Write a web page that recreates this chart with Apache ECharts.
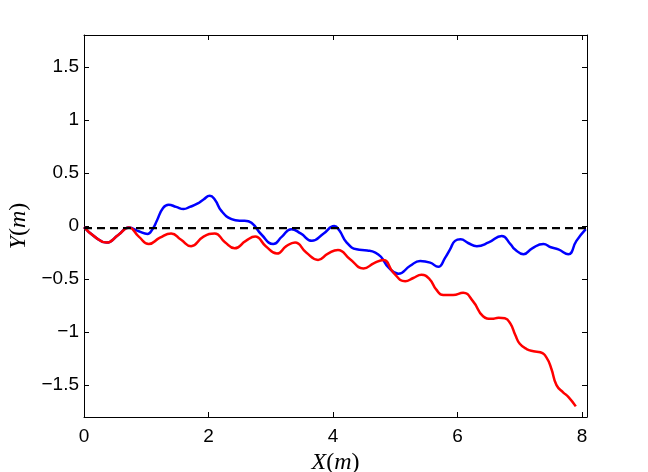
<!DOCTYPE html>
<html>
<head>
<meta charset="utf-8">
<script src="https://cdn.jsdelivr.net/npm/echarts@6/dist/echarts.min.js"></script>
<style>
  html, body { margin: 0; padding: 0; background: #fff; }
  #chart { width: 648px; height: 472px; }
</style>
</head>
<body>
<div id="chart"></div>
<script>
// tick labels
var xTicks = [0, 2, 4, 6, 8];
var yTicks = [-1.5, -1, -0.5, 0, 0.5, 1, 1.5];

// red path [x, y]
var redPath = [
  [0, -0.01], [0.17, -0.1], [0.36, -0.156], [0.55, -0.085], [0.72, -0.015],
  [0.88, -0.1], [1.04, -0.17], [1.22, -0.11], [1.40, -0.07], [1.56, -0.13],
  [1.72, -0.19], [1.92, -0.1], [2.1, -0.07], [2.26, -0.15], [2.42, -0.21],
  [2.6, -0.14], [2.75, -0.10], [2.92, -0.19], [3.10, -0.26], [3.25, -0.19],
  [3.39, -0.155], [3.57, -0.25], [3.76, -0.32], [3.92, -0.26], [4.08, -0.225],
  [4.27, -0.31], [4.49, -0.40], [4.66, -0.35], [4.81, -0.32], [4.97, -0.44],
  [5.16, -0.52], [5.29, -0.49], [5.42, -0.46], [5.55, -0.50], [5.66, -0.60],
  [5.77, -0.65], [5.93, -0.65], [6.09, -0.63], [6.25, -0.71], [6.41, -0.85],
  [6.55, -0.875], [6.66, -0.865], [6.76, -0.87], [6.85, -0.92], [6.93, -1.03],
  [7.0, -1.11], [7.11, -1.16], [7.22, -1.18], [7.33, -1.19], [7.43, -1.24],
  [7.51, -1.35], [7.59, -1.50], [7.70, -1.57], [7.78, -1.61], [7.90, -1.70]
];

// blue path [x, y]
var bluePath = [
  [0, -0.01], [0.17, -0.1], [0.36, -0.156], [0.55, -0.085], [0.72, -0.015],
  [0.88, -0.05], [1.02, -0.075], [1.1, -0.03], [1.17, 0.05], [1.27, 0.17],
  [1.36, 0.2], [1.48, 0.18], [1.6, 0.16], [1.7, 0.18], [1.82, 0.21],
  [1.92, 0.25], [2.02, 0.285], [2.1, 0.25], [2.21, 0.14], [2.37, 0.065],
  [2.5, 0.05], [2.58, 0.05], [2.69, 0.03], [2.85, -0.08], [3.04, -0.17],
  [3.18, -0.1], [3.33, -0.03], [3.48, -0.07], [3.66, -0.14], [3.85, -0.07],
  [4.02, 0.0], [4.1, -0.04], [4.22, -0.156], [4.38, -0.22], [4.55, -0.23],
  [4.68, -0.25], [4.77, -0.29], [4.89, -0.39], [5.05, -0.45], [5.24, -0.375],
  [5.4, -0.33], [5.56, -0.345], [5.69, -0.385], [5.8, -0.3], [5.88, -0.22],
  [5.96, -0.14], [6.05, -0.125], [6.17, -0.16], [6.31, -0.19], [6.5, -0.155],
  [6.71, -0.094], [6.85, -0.17], [6.92, -0.22], [7.06, -0.266], [7.2, -0.21],
  [7.38, -0.17], [7.5, -0.2], [7.62, -0.22], [7.78, -0.266], [7.91, -0.14],
  [8.06, -0.03]
];

// reference (dashed)
var refPath = [[0, -0.02], [8.08, -0.02]];

var xMin = 0, xMax = 8.08, yMin = -1.8, yMax = 1.8;

var myChart = echarts.init(document.getElementById('chart'));

function minus(v){
  return String(v).replace('-', '\u2212');
}

var nameRich = {
  i: { fontFamily: 'Liberation Serif', fontStyle: 'italic', fontSize: 24, color: '#000' },
  r: { fontFamily: 'Liberation Serif', fontSize: 24, color: '#000' }
};

var frameLine = { show: true, onZero: false, lineStyle: { color: '#000', width: 1 } };

var option = {
  backgroundColor: '#fff',
  animation: false,
  grid: { left: 84, right: 61, top: 35, bottom: 55, containLabel: false, outerBoundsMode: 'none' },
  xAxis: [
    {
      type: 'value', min: xMin, max: xMax, position: 'bottom',
      axisLine: frameLine,
      axisTick: { inside: true, length: 5, customValues: xTicks, lineStyle: { color: '#000' } },
      axisLabel: { customValues: xTicks, margin: 10, color: '#000', fontSize: 19, fontFamily: 'Liberation Sans', formatter: minus },
      splitLine: { show: false },
      name: '{i|X}{r|(}{i|m}{r|)}', nameLocation: 'middle', nameGap: 33,
      nameTextStyle: { rich: nameRich }
    },
    {
      type: 'value', min: xMin, max: xMax, position: 'top',
      axisLine: frameLine,
      axisTick: { inside: true, length: 5, customValues: xTicks, lineStyle: { color: '#000' } },
      axisLabel: { show: false },
      splitLine: { show: false }
    }
  ],
  yAxis: [
    {
      type: 'value', min: yMin, max: yMax, position: 'left',
      axisLine: frameLine,
      axisTick: { inside: true, length: 5, customValues: yTicks, lineStyle: { color: '#000' } },
      axisLabel: { customValues: yTicks, margin: 5, color: '#000', fontSize: 19, fontFamily: 'Liberation Sans', formatter: minus },
      splitLine: { show: false },
      name: '{i|Y}{r|(}{i|m}{r|)}', nameLocation: 'middle', nameGap: 50,
      nameTextStyle: { rich: nameRich }
    },
    {
      type: 'value', min: yMin, max: yMax, position: 'right',
      axisLine: frameLine,
      axisTick: { inside: true, length: 5, customValues: yTicks, lineStyle: { color: '#000' } },
      axisLabel: { show: false },
      splitLine: { show: false }
    }
  ],
  series: [
    {
      name: 'blue', type: 'line', data: bluePath, smooth: 0.5,
      showSymbol: false, symbol: 'none',
      lineStyle: { color: '#0000ff', width: 2.5 }
    },
    {
      name: 'red', type: 'line', data: redPath, smooth: 0.5,
      showSymbol: false, symbol: 'none',
      lineStyle: { color: '#ff0000', width: 2.5 }
    },
    {
      name: 'ref', type: 'line', data: refPath,
      showSymbol: false, symbol: 'none',
      lineStyle: { color: '#000', width: 2.2, type: [8, 5] }
    }
  ]
};

myChart.setOption(option);
</script>
</body>
</html>
